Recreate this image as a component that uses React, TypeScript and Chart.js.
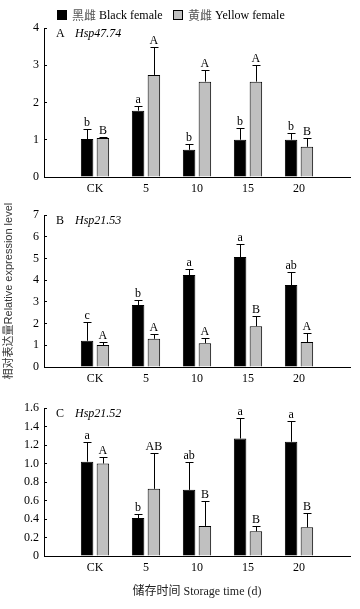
import React, { useEffect, useRef } from 'react';
import { Chart, registerables } from 'chart.js';

Chart.register(...registerables);

// ---------- data ----------
const categories = ['CK', '5', '10', '15', '20'];
const legendCn = ['黑雌', '黄雌'];
const legendEn = ['Black female', 'Yellow female'];
const yTitle = '相对表达量Relative expression level';
const xTitle = '储存时间 Storage time (d)';

// Panel A  Hsp47.74
const aBlack = [1.02, 1.78, 0.73, 1.0, 1.0];
const aBlackSd = [0.27, 0.13, 0.16, 0.32, 0.18];
const aGray = [1.05, 2.74, 2.56, 2.56, 0.81];
const aGraySd = [0.02, 0.74, 0.31, 0.44, 0.24];
const aBlackLetters = ['b', 'a', 'b', 'b', 'b'];
const aGrayLetters = ['B', 'A', 'A', 'A', 'B'];

// Panel B  Hsp21.53
const bBlack = [1.21, 2.86, 4.24, 5.07, 3.78];
const bBlackSd = [0.86, 0.25, 0.26, 0.58, 0.58];
const bGray = [1.01, 1.3, 1.1, 1.88, 1.15];
const bGraySd = [0.14, 0.22, 0.22, 0.46, 0.41];
const bBlackLetters = ['c', 'b', 'a', 'a', 'ab'];
const bGrayLetters = ['A', 'A', 'A', 'B', 'A'];

// Panel C  Hsp21.52
const cBlack = [1.02, 0.41, 0.715, 1.27, 1.235];
const cBlackSd = [0.21, 0.04, 0.3, 0.22, 0.225];
const cGray = [1.0, 0.726, 0.325, 0.267, 0.31];
const cGraySd = [0.07, 0.39, 0.265, 0.053, 0.15];
const cBlackLetters = ['a', 'b', 'ab', 'a', 'a'];
const cGrayLetters = ['A', 'AB', 'B', 'B', 'B'];

// ---------- styles ----------
const SERIF = "'Liberation Serif', 'Times New Roman', serif";
const CJK = "'Noto Sans CJK SC', sans-serif";
const BLACK = '#000000';
const GRAY = '#c0c0c0';

type Panel = {
  tag: string;
  gene: string;
  black: number[];
  blackSd: number[];
  gray: number[];
  graySd: number[];
  blackLetters: string[];
  grayLetters: string[];
  yMax: number;
  yStep: number;
  decimals: number;
  top: number;
  height: number;
  padTop: number;
  xHeight: number;
  legend?: boolean;
  yTitle?: boolean;
  xTitle?: boolean;
};

const panels: Panel[] = [
  {
    tag: 'A', gene: 'Hsp47.74',
    black: aBlack, blackSd: aBlackSd, gray: aGray, graySd: aGraySd,
    blackLetters: aBlackLetters, grayLetters: aGrayLetters,
    yMax: 4, yStep: 1, decimals: 0,
    top: 0, height: 200, padTop: 28, xHeight: 23, legend: true,
  },
  {
    tag: 'B', gene: 'Hsp21.53',
    black: bBlack, blackSd: bBlackSd, gray: bGray, graySd: bGraySd,
    blackLetters: bBlackLetters, grayLetters: bGrayLetters,
    yMax: 7, yStep: 1, decimals: 0,
    top: 200, height: 190, padTop: 15, xHeight: 23, yTitle: true,
  },
  {
    tag: 'C', gene: 'Hsp21.52',
    black: cBlack, blackSd: cBlackSd, gray: cGray, graySd: cGraySd,
    blackLetters: cBlackLetters, grayLetters: cGrayLetters,
    yMax: 1.6, yStep: 0.2, decimals: 1,
    top: 390, height: 219, padTop: 18, xHeight: 53, xTitle: true,
  },
];

function decoPlugin(p: Panel) {
  return {
    id: 'deco' + p.tag,
    afterDatasetsDraw(chart: any) {
      const ctx = chart.ctx as CanvasRenderingContext2D;
      const ys = chart.scales.y;
      const area = chart.chartArea;
      ctx.save();
      const sets = [
        { means: p.black, sds: p.blackSd, letters: p.blackLetters },
        { means: p.gray, sds: p.graySd, letters: p.grayLetters },
      ];
      sets.forEach((s, di) => {
        const meta = chart.getDatasetMeta(di);
        meta.data.forEach((bar: any, i: number) => {
          const x = Math.round(bar.x) + 0.5;
          const yTop = ys.getPixelForValue(s.means[i]);
          const yErr = Math.round(ys.getPixelForValue(s.means[i] + s.sds[i])) + 0.5;
          ctx.strokeStyle = BLACK;
          ctx.lineWidth = 1;
          ctx.beginPath();
          ctx.moveTo(x, yTop);
          ctx.lineTo(x, yErr);
          ctx.moveTo(x - 4, yErr);
          ctx.lineTo(x + 4, yErr);
          ctx.stroke();
          ctx.fillStyle = BLACK;
          ctx.font = `12px ${SERIF}`;
          ctx.textAlign = 'center';
          ctx.textBaseline = 'alphabetic';
          ctx.fillText(s.letters[i], bar.x, yErr - 4);
        });
      });
      // panel tag + gene name
      ctx.fillStyle = BLACK;
      ctx.textAlign = 'left';
      ctx.textBaseline = 'middle';
      ctx.font = `12px ${SERIF}`;
      ctx.fillText(p.tag, area.left + 12, area.top + 6);
      ctx.font = `italic 12px ${SERIF}`;
      ctx.fillText(p.gene, area.left + 31, area.top + 6);

      if (p.legend) {
        const items = [
          { fill: BLACK, x: 57 },
          { fill: GRAY, x: 173 },
        ];
        items.forEach((it, k) => {
          ctx.fillStyle = it.fill;
          ctx.fillRect(it.x + 0.5, 10.5, 9, 9);
          ctx.strokeStyle = BLACK;
          ctx.lineWidth = 1;
          ctx.strokeRect(it.x + 0.5, 10.5, 9, 9);
          const tx = it.x + 15;
          ctx.font = `12px ${CJK}`;
          ctx.fillStyle = '#555';
          ctx.textBaseline = 'middle';
          ctx.fillText(legendCn[k], tx, 15.5);
          const w = ctx.measureText(legendCn[k]).width;
          ctx.font = `12px ${SERIF}`;
          ctx.fillStyle = BLACK;
          ctx.fillText(legendEn[k], tx + w + 3, 15.5);
        });
      }
      ctx.restore();
    },
  };
}

function makeChart(canvas: HTMLCanvasElement, p: Panel) {
  return new Chart(canvas, {
    type: 'bar',
    data: {
      datasets: [
        {
          label: legendEn[0],
          data: p.black.map((v, i) => ({ x: i, y: v })),
          backgroundColor: BLACK,
          borderColor: BLACK,
          borderWidth: 1,
          categoryPercentage: 0.62,
          barPercentage: 0.79,
        },
        {
          label: legendEn[1],
          data: p.gray.map((v, i) => ({ x: i, y: v })),
          backgroundColor: GRAY,
          borderColor: BLACK,
          borderWidth: 1,
          categoryPercentage: 0.62,
          barPercentage: 0.79,
        },
      ] as any,
    },
    options: {
      responsive: false,
      animation: false,
      events: [],
      layout: { padding: { top: p.padTop, right: 10, left: 0, bottom: 0 } },
      plugins: {
        legend: { display: false },
        tooltip: { enabled: false },
      },
      scales: {
        x: {
          type: 'linear',
          min: -1,
          max: categories.length,
          offset: false,
          grid: { display: false, drawTicks: false, offset: false },
          border: { display: true, color: BLACK, width: 1 },
          ticks: {
            stepSize: 1,
            autoSkip: false,
            maxRotation: 0,
            padding: 5,
            color: BLACK,
            font: { family: SERIF, size: 12 },
            callback: (v: any) => {
              const n = Number(v);
              return Number.isInteger(n) && n >= 0 && n < categories.length ? categories[n] : '';
            },
          },
          title: {
            display: !!p.xTitle,
            text: xTitle,
            color: '#222',
            font: { family: `${SERIF.split(',')[0]}, ${CJK}`, size: 12 },
            padding: { top: 0, bottom: 10 },
          },
          afterFit: (s: any) => {
            s.height = p.xHeight;
          },
        } as any,
        y: {
          type: 'linear',
          min: 0,
          max: p.yMax,
          grid: {
            display: true,
            drawOnChartArea: false,
            drawTicks: true,
            tickLength: -3,
            color: BLACK,
          },
          border: { display: true, color: BLACK, width: 1 },
          ticks: {
            stepSize: p.yStep,
            padding: 8,
            color: BLACK,
            font: { family: SERIF, size: 12 },
            callback: (v: any) => {
              const n = Number(v);
              return n === 0 ? '0' : n.toFixed(p.decimals);
            },
          },
          title: {
            display: !!p.yTitle,
            text: yTitle,
            color: '#333',
            font: { family: `'Liberation Sans', ${CJK}`, size: 11 },
            padding: { top: 2, bottom: 0 },
          },
          afterFit: (s: any) => {
            s.width = 44;
          },
        } as any,
      },
    },
    plugins: [decoPlugin(p)],
  } as any);
}

function PanelChart({ p }: { p: Panel }) {
  const ref = useRef<HTMLCanvasElement | null>(null);
  useEffect(() => {
    if (!ref.current) return;
    const chart = makeChart(ref.current, p);
    return () => chart.destroy();
  }, [p]);
  return (
    <canvas
      ref={ref}
      width={360}
      height={p.height}
      style={{ position: 'absolute', left: 0, top: p.top, width: 360, height: p.height, display: 'block' }}
    />
  );
}

export default function App() {
  return (
    <div style={{ position: 'absolute', left: 0, top: 0, width: 360, height: 609, background: '#fff' }}>
      {panels.map((p) => (
        <PanelChart key={p.tag} p={p} />
      ))}
    </div>
  );
}
